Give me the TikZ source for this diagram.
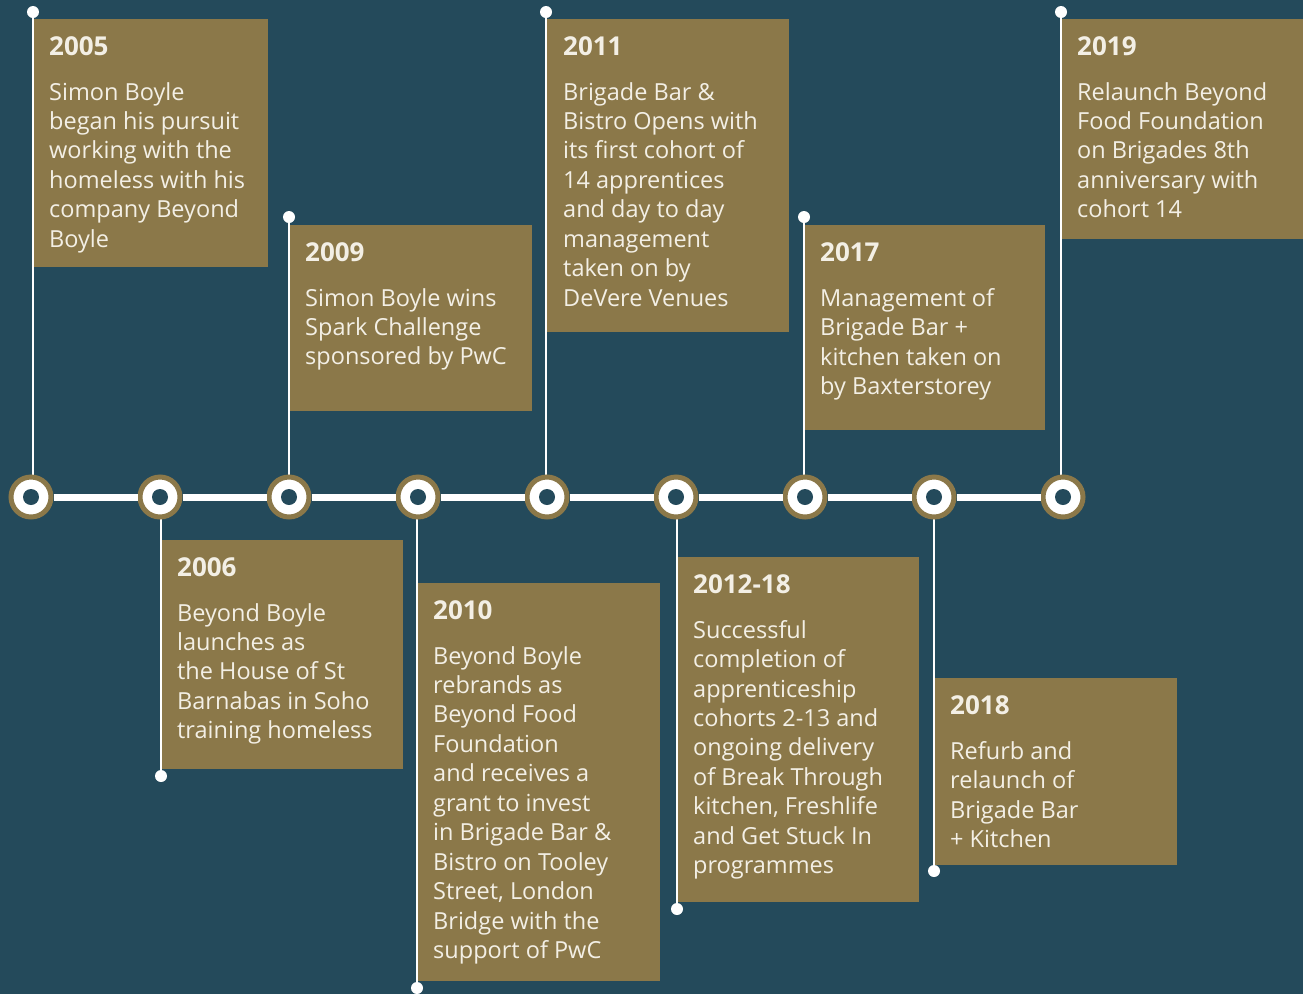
\documentclass[tikz,border=0pt]{standalone}
\usepackage{fontspec}
\setmainfont{Open Sans}
\usetikzlibrary{backgrounds}
\definecolor{bg}{RGB}{36,74,91}
\definecolor{gold}{RGB}{139,120,73}
\definecolor{txt}{RGB}{243,239,229}
\tikzset{
  box/.style={fill=gold, draw=none, anchor=north west, inner sep=0, outer sep=0},
  yeartxt/.style={anchor=base west, inner sep=0, text=txt, font=\fontsize{26}{30}\selectfont\bfseries},
  bodytxt/.style={anchor=north west, inner sep=0, text=txt, align=left, font=\fontsize{23.5}{29.45}\selectfont,
    execute at begin node=\rule{0pt}{20pt}},
  hub/.style={circle, fill=white, draw=gold, line width=5pt, minimum size=40pt, inner sep=0},
  hubdot/.style={circle, fill=bg, minimum size=16pt, inner sep=0},
  pin/.style={circle, fill=white, minimum size=12pt, inner sep=0},
  stem/.style={draw=white, line width=1.6pt},
  axis/.style={draw=white, line width=7pt}
}
\begin{document}
\begin{tikzpicture}[x=1pt, y=-1pt]
\useasboundingbox (0,0) rectangle (1303,994);

% boxes
\node[box, minimum width=234, minimum height=248] (b05) at (34,19) {};
\node[box, minimum width=242, minimum height=186] (b09) at (290,225) {};
\node[box, minimum width=242, minimum height=313] (b11) at (547,19) {};
\node[box, minimum width=240, minimum height=205] (b17) at (805,225) {};
\node[box, minimum width=241, minimum height=220] (b19) at (1062,19) {};
\node[box, minimum width=241, minimum height=229] (b06) at (162,540) {};
\node[box, minimum width=242, minimum height=398] (b10) at (418,583) {};
\node[box, minimum width=241, minimum height=345] (b12) at (678,557) {};
\node[box, minimum width=242, minimum height=187] (b18) at (935,678) {};

% hubs
\foreach \i/\x in {1/31,2/160,3/289,4/418,5/547,6/676,7/805,8/934,9/1063}{
  \node[hub] (c\i) at (\x,497) {};
  \node[hubdot] at (c\i) {};
}
\foreach \a/\b in {1/2,2/3,3/4,4/5,5/6,6/7,7/8,8/9}{
  \draw[axis] (c\a) -- (c\b);
}

% pins
\node[pin] (p05) at (33,12) {};
\node[pin] (p09) at (289,217) {};
\node[pin] (p11) at (546,12) {};
\node[pin] (p17) at (804,217) {};
\node[pin] (p19) at (1061,12) {};
\node[pin] (p06) at (161,776) {};
\node[pin] (p10) at (417,988) {};
\node[pin] (p12) at (677,909) {};
\node[pin] (p18) at (934,871) {};

\begin{scope}[on background layer]
\fill[bg] (0,0) rectangle (1303,994);
\foreach \p/\c in {p05/c1,p09/c3,p11/c5,p17/c7,p19/c9,p06/c2,p10/c4,p12/c6,p18/c8}{
  \draw[stem] (\p.center) -- (\p.center |- \c.center);
}
\end{scope}

% texts (body nodes: top = first baseline - 20)
\node[yeartxt] (y05) at (49,55) {2005};
\node[bodytxt] (t05) at (49,82) {Simon Boyle\\began his pursuit\\working with the\\homeless with his\\company Beyond\\Boyle};

\node[yeartxt] (y09) at (305,261) {2009};
\node[bodytxt] (t09) at (305,288) {Simon Boyle wins\\Spark Challenge\\sponsored by PwC};

\node[yeartxt] (y11) at (563,55) {2011};
\node[bodytxt] (t11) at (563,82) {Brigade Bar \&\\Bistro Opens with\\its first cohort of\\14 apprentices\\and day to day\\management\\taken on by\\DeVere Venues};

\node[yeartxt] (y17) at (820,261) {2017};
\node[bodytxt] (t17) at (820,288) {Management of\\Brigade Bar +\\kitchen taken on\\by Baxterstorey};

\node[yeartxt] (y19) at (1077,55) {2019};
\node[bodytxt] (t19) at (1077,82) {Relaunch Beyond\\Food Foundation\\on Brigades 8th\\anniversary with\\cohort 14};

\node[yeartxt] (y06) at (177,576) {2006};
\node[bodytxt] (t06) at (177,603) {Beyond Boyle\\launches as\\the House of St\\Barnabas in Soho\\training homeless};

\node[yeartxt] (y10) at (433,619) {2010};
\node[bodytxt] (t10) at (433,646) {Beyond Boyle\\rebrands as\\Beyond Food\\Foundation\\and receives a\\grant to invest\\in Brigade Bar \&\\Bistro on Tooley\\Street, London\\Bridge with the\\support of PwC};

\node[yeartxt] (y12) at (693,593) {2012-18};
\node[bodytxt] (t12) at (693,620) {Successful\\completion of\\apprenticeship\\cohorts 2-13 and\\ongoing delivery\\of Break Through\\kitchen, Freshlife\\and Get Stuck In\\programmes};

\node[yeartxt] (y18) at (950,714) {2018};
\node[bodytxt] (t18) at (950,741) {Refurb and\\relaunch of\\Brigade Bar\\+ Kitchen};
\end{tikzpicture}
\end{document}
